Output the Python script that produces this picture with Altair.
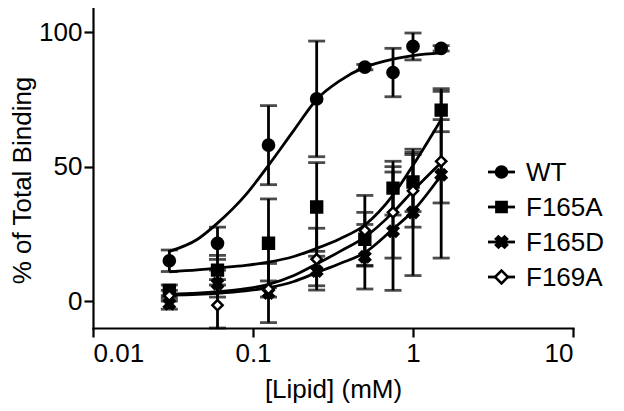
import altair as alt
import pandas as pd

# ---- data ----
conc = [0.03, 0.06, 0.125, 0.25, 0.5, 0.75, 1.0, 1.5]
series = ["WT", "F165A", "F165D", "F169A"]

wt_mean = [15, 21.5, 58, 75.2, 87, 85, 94.7, 94]
wt_err = [4, 6, 14.7, 21.5, 1, 9, 5, 1]
f165a_mean = [4, 11.5, 21.5, 35, 23, 42, 44.3, 71]
f165a_err = [2, 5.5, 16.5, 16.5, 10, 10, 11, 8]
f165d_mean = [-1, 6.5, 3, 11.2, 16.5, 26, 33, 47]
f165d_err = [2, 5, 11, 5.5, 12, 22, 23.5, 31]
f169a_mean = [2, -1.5, 4.5, 15.6, 26.3, 33, 41, 52]
f169a_err = [2, 9.5, 3, 11.5, 13, 17, 13.5, 15.5]

curve_x = [0.03, 0.045, 0.06, 0.09, 0.125, 0.18, 0.25, 0.35, 0.5, 0.75, 1.0, 1.5]
wt_curve = [18.5, 23, 29, 39.5, 50.5, 63.5, 75, 82, 87, 90, 91.3, 92.3]
f165a_curve = [10.9, 11.6, 12.3, 13.3, 14.5, 16.6, 19.6, 23.2, 28.3, 39.4, 50.5, 67.5]
f165d_curve = [2.2, 2.5, 2.9, 3.8, 5.0, 7.3, 10.6, 14.0, 18.0, 26.8, 33.5, 46.8]
f169a_curve = [2.6, 3.0, 3.5, 4.6, 6.2, 9.5, 13.8, 18.5, 23.8, 33.0, 41.0, 51.5]

x_ticks = [0.01, 0.1, 1, 10]
y_ticks = [0, 50, 100]

means = [wt_mean, f165a_mean, f165d_mean, f169a_mean]
errs = [wt_err, f165a_err, f165d_err, f169a_err]
curves = [wt_curve, f165a_curve, f165d_curve, f169a_curve]

rows = []
for s, m, e in zip(series, means, errs):
    for c, mv, ev in zip(conc, m, e):
        rows.append({"series": s, "conc": c, "mean": mv, "lo": mv - ev, "hi": mv + ev})
pts = pd.DataFrame(rows)

crows = []
for s, cv in zip(series, curves):
    for c, v in zip(curve_x, cv):
        crows.append({"series": s, "conc": c, "val": v})
cdf = pd.DataFrame(crows)

# ---- styling ----
FONT = "Liberation Sans"
FS = 26
X_PATH = "M-1,-0.55L-0.55,-1L0,-0.45L0.55,-1L1,-0.55L0.45,0L1,0.55L0.55,1L0,0.45L-0.55,1L-1,0.55L-0.45,0Z"
shapes = ["circle", "square", X_PATH, "diamond"]
fills = ["black", "black", "black", "white"]
sizes = [125, 105, 125, 165]
LW = 2.8

W, H = 480, 320
xscale = alt.Scale(type="log", domain=[0.01, 10], nice=False)
yscale = alt.Scale(domain=[-10, 109], nice=False, zero=False, clamp=True)

xenc = alt.X("conc:Q", scale=xscale,
             axis=alt.Axis(values=x_ticks, format="~g", title="[Lipid] (mM)",
                           titlePadding=10, labelPadding=3))
yenc = alt.Y("val:Q", scale=yscale,
             axis=alt.Axis(values=y_ticks, title="% of Total Binding",
                           titlePadding=3, labelPadding=2, titleY=172))

base_pts = alt.Chart(pts)

curve = alt.Chart(cdf).mark_line(interpolate="monotone", color="black", strokeWidth=LW).encode(
    x=xenc, y=yenc, detail="series:N"
)

err_rule = base_pts.mark_rule(color="black", strokeWidth=LW).encode(
    x=alt.X("conc:Q", scale=xscale), y=alt.Y("lo:Q", scale=yscale), y2="hi:Q"
)
cap_hi = base_pts.mark_tick(orient="horizontal", color="black", thickness=LW, size=17).encode(
    x=alt.X("conc:Q", scale=xscale), y=alt.Y("hi:Q", scale=yscale)
)
cap_lo = base_pts.mark_tick(orient="horizontal", color="black", thickness=LW, size=17).encode(
    x=alt.X("conc:Q", scale=xscale), y=alt.Y("lo:Q", scale=yscale)
)

points = base_pts.mark_point(filled=True, stroke="black", strokeWidth=2.5, opacity=1).encode(
    x=alt.X("conc:Q", scale=xscale),
    y=alt.Y("mean:Q", scale=yscale),
    shape=alt.Shape("series:N", scale=alt.Scale(domain=series, range=shapes), legend=None),
    fill=alt.Fill("series:N", scale=alt.Scale(domain=series, range=fills), legend=None),
    size=alt.Size("series:N", scale=alt.Scale(domain=series, range=sizes), legend=None),
)

# ---- manual legend (line through marker, then label) ----
one = pd.DataFrame({"k": [0]})
legend_layers = []
ly0, ldy = 164, 35
for i, s in enumerate(series):
    yy = ly0 + i * ldy
    legend_layers.append(
        alt.Chart(one).mark_rule(color="black", strokeWidth=LW).encode(
            x=alt.value(395), x2=alt.value(422), y=alt.value(yy))
    )
    legend_layers.append(
        alt.Chart(one).mark_point(filled=True, stroke="black", strokeWidth=2.5, opacity=1,
                                  shape=shapes[i], fill=fills[i], size=sizes[i]).encode(
            x=alt.value(408.5), y=alt.value(yy))
    )
    legend_layers.append(
        alt.Chart(one).mark_text(align="left", baseline="middle", font=FONT, fontSize=FS,
                                 color="black", text=s).encode(
            x=alt.value(433), y=alt.value(yy + 1))
    )

chart = alt.layer(curve, err_rule, cap_hi, cap_lo, points, *legend_layers).properties(
    width=W, height=H,
    autosize=alt.AutoSizeParams(type="none"),
    padding={"left": 85, "top": 0, "right": 40, "bottom": 80},
).configure_view(stroke=None).configure_axis(
    grid=False,
    domainColor="black", domainWidth=2.2, domainCap="square",
    tickColor="black", tickWidth=2.2, tickSize=9,
    labelFont=FONT, labelFontSize=FS, labelColor="black",
    titleFont=FONT, titleFontSize=FS, titleColor="black", titleFontWeight="normal",
)

chart.save("out.html", embed_options={"renderer": "svg", "actions": False})
